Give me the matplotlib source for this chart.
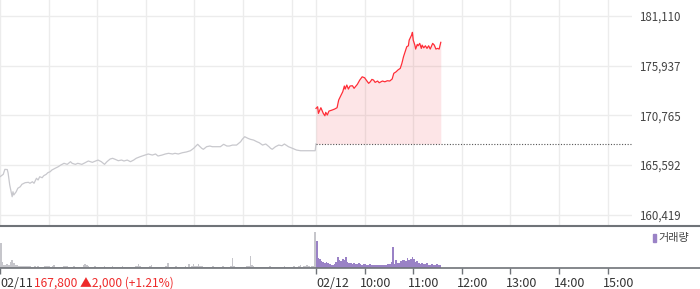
import matplotlib
matplotlib.use('Agg')
import matplotlib.pyplot as plt
from matplotlib.lines import Line2D
from matplotlib.patches import Rectangle
from matplotlib.transforms import blended_transform_factory, offset_copy

plt.rcParams['font.family'] = ['Noto Sans CJK KR', 'DejaVu Sans']

# ---------------- data ----------------
SESSION_MIN = 390  # minutes per trading session (09:00-15:30)

prev_minutes = [0, 4, 6, 9, 10, 12, 15, 16, 17, 20,
                22, 25, 27, 31, 35, 37, 40, 42, 45, 47,
                49, 52, 54, 57, 59, 62, 64, 68, 72, 75,
                79, 83, 87, 89, 93, 96, 101, 105, 109, 114,
                118, 121, 125, 129, 132, 136, 139, 142, 146, 150,
                153, 157, 161, 165, 168, 173, 179, 183, 188, 192,
                195, 200, 204, 208, 213, 216, 220, 225, 230, 235,
                239, 241, 244, 246, 249, 251, 255, 259, 262, 267,
                272, 276, 280, 283, 287, 292, 297, 299, 302, 306,
                309, 313, 317, 320, 324, 328, 332, 334, 336, 340,
                344, 348, 351, 356, 361, 366, 371, 376, 380, 386,
                389, 390]
prev_prices = [164370, 164620, 165140, 165120, 164760, 163510, 162290, 162810, 162470, 162810,
               163170, 163330, 163580, 163750, 163790, 163690, 163850, 163690, 164210, 164030,
               164370, 164270, 164480, 164620, 164790, 164900, 165070, 165250, 165420, 165590,
               165770, 165660, 165940, 165770, 165660, 165770, 165660, 165830, 166010, 165870,
               166010, 166110, 165940, 165660, 165940, 166220, 166290, 166190, 166040, 166110,
               166010, 166110, 165940, 166110, 166290, 166460, 166630, 166740, 166630, 166740,
               166530, 166630, 166740, 166810, 166740, 166810, 166740, 166870, 166950, 167080,
               167330, 167500, 167750, 167570, 167330, 167230, 167500, 167570, 167500, 167500,
               167500, 167750, 167570, 167570, 167670, 167670, 168020, 168270, 168540, 168370,
               168270, 168190, 168020, 167910, 167670, 167780, 167500, 167330, 167230, 167500,
               167670, 167600, 167780, 167500, 167330, 167150, 167080, 167080, 167080, 167080,
               167080, 167800]

today_minutes = [0, 2, 3, 6, 9, 11, 12, 14, 16, 20,
                 23, 26, 28, 31, 33, 35, 36, 38, 40, 42,
                 45, 47, 51, 54, 57, 60, 62, 65, 67, 69,
                 71, 73, 76, 78, 82, 85, 88, 91, 94, 96,
                 99, 101, 104, 106, 108, 110, 112, 114, 115, 118,
                 119, 120, 122, 123, 125, 126, 128, 130, 131, 133,
                 135, 137, 139, 141, 144, 146, 148, 150, 152, 154]
today_prices = [171490, 171660, 170970, 171560, 170970, 170720, 171080, 170800, 171210, 171320,
                171420, 171560, 172360, 172880, 173220, 173820, 173500, 173920, 173500, 173820,
                173850, 173580, 173990, 174440, 174780, 174680, 174440, 174100, 174260, 174510,
                174440, 174200, 174340, 174160, 174340, 174260, 174370, 174340, 174550, 175140,
                175310, 175480, 175660, 176180, 176870, 177390, 177910, 178010, 178600, 179130,
                179410, 178600, 178080, 177670, 178160, 178010, 178260, 177740, 178080, 177800,
                178010, 177740, 178010, 177670, 178260, 178080, 177670, 177740, 177670, 178370]

prev_close = 167800
price_ticks = [160419, 165592, 170765, 175937, 181110]

# volume in thousand shares, 2-minute bins
vol_prev = [25, 6, 3, 3, 4, 3, 6, 8, 5, 3, 3, 2, 2, 2, 2, 2, 2, 2.5, 2, 1.5,
            1.5, 2, 1.5, 2, 1.5, 1.5, 1.5, 2, 2, 2,
            2, 1.5, 2, 3, 1.5, 1.5, 1.5, 1.5, 1.5, 2,
            2, 2, 1.5, 1.5, 1.5, 2, 1.5, 1.5, 1.5, 1.5,
            1.5, 3, 4, 3, 2, 1.5, 1.5, 1.5, 2, 1.5,
            1.5, 1.5, 1.5, 1.5, 2, 1.5, 1.5, 1.5, 1.5, 2,
            1.5, 1.5, 1.5, 1.5, 1.5, 2, 1.5, 1.5, 1.5, 1.5,
            1.5, 1.5, 1.5, 2, 2, 4, 2, 1.5, 1.5, 1.5,
            1.5, 1.5, 2, 3, 1.5, 1.5, 1.5, 1.5, 1.5, 1.5,
            1.5, 1.5, 2, 5, 1.5, 1.5, 1.5, 1.5, 2, 1.5,
            1.5, 1.5, 1.5, 1.5, 2, 1.5, 4, 1.5, 2, 4,
            2, 2, 4, 2.5, 2, 1.5, 1.5, 1.5, 1.5, 1.5,
            1.5, 2, 1.5, 1.5, 1.5, 1.5, 1.5, 2, 1.5, 1.5,
            1.5, 1.5, 2, 10, 2, 1.5, 1.5, 1.5, 1.5, 1.5,
            1.5, 1.5, 2, 2.5, 12, 3, 2, 1.5, 1.5, 1.5,
            1.5, 1.5, 1.5, 1.5, 1.5, 1.5, 2, 1.5, 1.5, 1.5,
            1.5, 1.5, 1.5, 1.5, 1.5, 2, 1.5, 1.5, 1.5, 1.5,
            1.5, 2, 1.5, 1.5, 2, 3, 1.5, 2, 2, 3.5,
            2, 1.5, 2, 2.5, 36]
vol_today = [27, 10, 9, 7, 6, 5, 6, 5, 4, 3,
             3, 4, 6, 11, 8, 7, 9, 8, 11.5, 6,
             5, 5, 4, 5, 4, 4, 5, 4, 3, 4,
             4, 3, 3, 4, 3, 3, 3, 3, 3, 3,
             3, 3, 3, 3, 4, 4, 6, 21, 4, 8,
             5, 5, 7, 8, 8, 7, 10, 8, 9, 11,
             9, 6, 7, 5, 4, 5, 4, 4, 5, 3,
             3, 4, 3, 3, 4, 3, 3]
BIN = 2

time_ticks = [0, 390, 450, 510, 570, 630, 690, 750]
time_labels = ['02/11', '02/12', '10:00', '11:00', '12:00', '13:00', '14:00', '15:00']
grid_minutes = [0, 60, 120, 180, 240, 300, 360, 390, 450, 510, 570, 630, 690, 750]
change_text = '167,800 \u25B22,000 (+1.21%)'
legend_label = '거래량'

# ---------------- style ----------------
GRID = '#ececec'
GRAY_LINE = '#c8c8cd'
RED = '#ff2d37'
PURPLE = '#9a82c6'
GRAY_BAR = '#c6c6cb'
AXIS = '#6f7378'
TXT = '#333333'

W, H = 700, 289
fig = plt.figure(figsize=(W / 100, H / 100), dpi=100)
fig.patch.set_facecolor('white')

axp = fig.add_axes([0, (H - 226) / H, 632 / W, 226 / H])
axv = fig.add_axes([0, (H - 268) / H, 632 / W, 42 / H])

# price panel
axp.set_xlim(0, 2 * SESSION_MIN)
axp.set_ylim(159240, 182780)
for s in axp.spines.values():
    s.set_visible(False)
axp.set_xticks(grid_minutes)
axp.set_xticklabels([])
axp.tick_params(axis='x', length=0)
axp.set_yticks(price_ticks)
axp.set_yticklabels([f'{v:,}' for v in price_ticks])
axp.yaxis.tick_right()
axp.tick_params(axis='y', length=0, pad=5, labelsize=8.3, labelcolor='#444444')
axp.grid(True, color=GRID, linewidth=1)
axp.set_axisbelow(True)

axp.plot(prev_minutes, prev_prices, color=GRAY_LINE, linewidth=0.9, zorder=3)
tx = [SESSION_MIN + m for m in today_minutes]
axp.fill_between(tx, prev_close, today_prices, color='#f0303c', alpha=0.12,
                 linewidth=0, zorder=2)
axp.plot(tx, today_prices, color=RED, linewidth=0.9, zorder=4)
axp.hlines(prev_close, SESSION_MIN, 2 * SESSION_MIN, colors='#555555',
           linestyles=(0, (1, 1.5)), linewidth=0.8, zorder=3)

# volume panel
axv.set_xlim(0, 2 * SESSION_MIN)
axv.set_ylim(0, 42)
for s in axv.spines.values():
    s.set_visible(False)
axv.set_yticks([])
axv.set_xticks(time_ticks)
axv.set_xticklabels([])
axv.tick_params(axis='x', length=4, width=1, color=AXIS, direction='out')

px = [BIN * i for i in range(len(vol_prev))]
axv.bar(px, vol_prev, width=BIN, align='edge', color=GRAY_BAR, linewidth=0)
tvx = [SESSION_MIN + BIN * i for i in range(len(vol_today))]
axv.bar(tvx, vol_today, width=BIN, align='edge', color=PURPLE, linewidth=0)

# full-width separators
fig.add_artist(Line2D([0, 1], [(H - 226) / H] * 2, color=AXIS, linewidth=1.5))
fig.add_artist(Line2D([0, 1], [(H - 268) / H] * 2, color=AXIS, linewidth=1.2))

# bottom labels
trans = blended_transform_factory(axv.transData, axv.transAxes)
trans_hour = offset_copy(trans, fig=fig, x=-5, y=0, units='dots')
ybase = -19 / 42
first = None
for t, lab in zip(time_ticks, time_labels):
    if lab.startswith('02/'):
        txt = axv.text(t, ybase, lab, transform=trans, ha='left', va='baseline',
                       fontsize=9, color=TXT)
    else:
        txt = axv.text(t, ybase, lab, transform=trans_hour, ha='left', va='baseline',
                       fontsize=9, color=TXT)
    if first is None:
        first = txt
axv.annotate(change_text, xy=(1, 0), xycoords=first, xytext=(0.5, 0),
             textcoords='offset points', ha='left', va='bottom',
             fontsize=8.6, color='#ee2a2a')

# volume legend
fig.patches.append(Rectangle((653 / W, (H - 242) / H), 2.5 / W, 8 / H,
                             transform=fig.transFigure, color=PURPLE))
fig.text(658 / W, (H - 238) / H, legend_label, ha='left', va='center',
         fontsize=8, color='#444444')

fig.savefig('out.png', dpi=100, facecolor='white')
